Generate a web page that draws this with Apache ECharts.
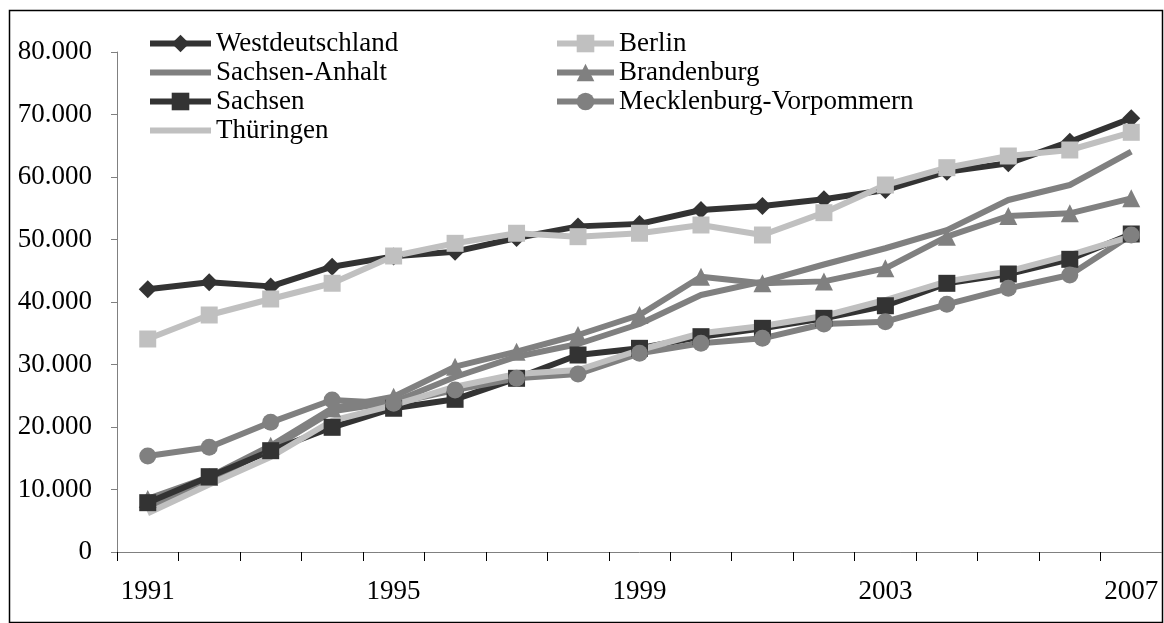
<!DOCTYPE html>
<html><head><meta charset="utf-8">
<script src="https://cdn.jsdelivr.net/npm/echarts@6/dist/echarts.min.js"></script>
<style>html,body{margin:0;padding:0;background:#fff}#c{width:1164px;height:623px}</style>
</head><body><div id="c"></div>
<script>
const years = ['1991','1992','1993','1994','1995','1996','1997','1998','1999','2000','2001','2002','2003','2004','2005','2006','2007'];
const westdeutschland = [42030, 43150, 42500, 45650, 47300, 48050, 50240, 52100, 52500, 54720, 55360, 56430, 57920, 60850, 62190, 65650, 69390];
const berlin = [34080, 37920, 40480, 43000, 47360, 49390, 51000, 50450, 51000, 52320, 50720, 54290, 58720, 61490, 63360, 64320, 67150];
const sachsenAnhalt = [7000, 11500, 16500, 22500, 24000, 28000, 31250, 33280, 36480, 41120, 43250, 46000, 48600, 51500, 56320, 58720, 64050];
const brandenburg = [8500, 12000, 17000, 23000, 24850, 29650, 32050, 34720, 37920, 44050, 43000, 43300, 45390, 50450, 53760, 54190, 56590];
const sachsen = [7890, 12050, 16210, 19950, 23000, 24430, 27790, 31520, 32590, 34450, 35790, 37390, 39400, 42990, 44480, 46830, 50880];
const mecklenburg = [15360, 16750, 20750, 24320, 23790, 25920, 27790, 28480, 31790, 33390, 34190, 36480, 36850, 39630, 42190, 44320, 50720];
const thueringen = [6200, 10800, 15200, 21000, 23500, 26450, 28480, 29120, 32320, 35000, 36160, 37760, 40320, 43300, 44900, 47500, 50500];

const FONT = "'Liberation Serif','Times New Roman',serif";
const DARK = '#333333', MID = '#808080', LIGHT = '#C0C0C0';

function mk(name, data, color, symbol, size) {
  return {
    name, type: 'line', data,
    symbol: symbol || 'none', symbolSize: size || 16,
    showSymbol: !!symbol,
    lineStyle: { color, width: 6 },
    itemStyle: { color },
    emphasis: { disabled: true }
  };
}
function li(name, hasSymbol) {
  const o = { name };
  if (!hasSymbol) o.itemStyle = { opacity: 0 };
  return o;
}

const legendCommon = {
  orient: 'vertical', top: 25, itemHeight: 22, itemGap: 2,
  lineStyle: { width: 6 },
  textStyle: { fontFamily: FONT, fontSize: 27, color: '#000' }
};

const chart = echarts.init(document.getElementById('c'));
chart.setOption({
  animation: false,
  backgroundColor: '#fff',
  textStyle: { fontFamily: FONT },
  graphic: [{
    type: 'rect', shape: { x: 9.5, y: 10.5, width: 1153, height: 612 },
    style: { fill: 'none', stroke: '#000', lineWidth: 1.5 }, z: -1
  }],
  legend: [Object.assign({
    data: [li('Westdeutschland', true), li('Sachsen-Anhalt', false), li('Sachsen', true), li('Thüringen', false)],
    left: 142, itemWidth: 61
  }, legendCommon), Object.assign({
    data: [li('Berlin', true), li('Brandenburg', true), li('Mecklenburg-Vorpommern', true)],
    left: 549, itemWidth: 57
  }, legendCommon)],
  grid: { left: 117, right: 2, top: 52, bottom: 71, containLabel: false },
  xAxis: {
    type: 'category', data: years, boundaryGap: true,
    axisLine: { lineStyle: { color: MID, width: 1 } },
    axisTick: { show: true, interval: 0, length: 9, lineStyle: { color: '#000' } },
    axisLabel: { interval: 3, margin: 26, fontFamily: FONT, fontSize: 27, color: '#000' },
    splitLine: { show: false }
  },
  yAxis: {
    type: 'value', min: 0, max: 80000, interval: 10000,
    axisLine: { show: true, lineStyle: { color: MID, width: 1 } },
    axisTick: { show: true, length: 6, lineStyle: { color: MID } },
    axisLabel: {
      margin: 25, fontFamily: FONT, fontSize: 27, color: '#000',
      formatter: v => v === 0 ? '0' : (v / 1000).toFixed(0) + '.000'
    },
    splitLine: { show: false }
  },
  series: [
    mk('Westdeutschland', westdeutschland, DARK, 'diamond', 18),
    mk('Berlin', berlin, LIGHT, 'rect', 17),
    mk('Sachsen-Anhalt', sachsenAnhalt, MID),
    mk('Brandenburg', brandenburg, MID, 'triangle', 18),
    mk('Sachsen', sachsen, DARK, 'rect', 17),
    mk('Mecklenburg-Vorpommern', mecklenburg, MID, 'circle', 17),
    mk('Thüringen', thueringen, LIGHT)
  ]
});
</script></body></html>
